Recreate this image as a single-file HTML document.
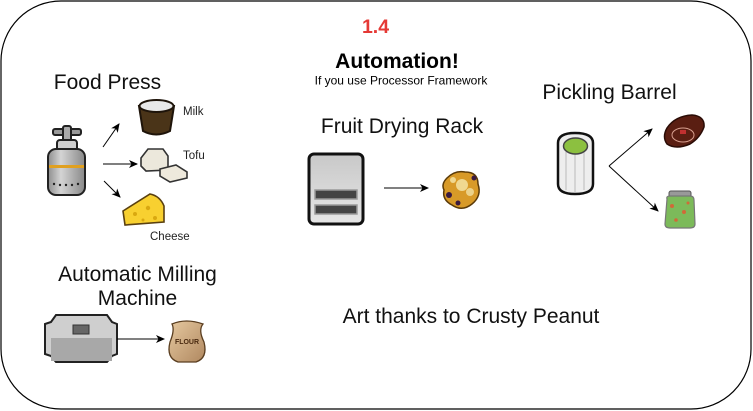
<!DOCTYPE html>
<html>
<head>
<meta charset="utf-8">
<style>
html,body{margin:0;padding:0;background:#fff;}
svg{display:block;}
text{font-family:"Liberation Sans",Arial,sans-serif;}
</style>
</head>
<body>
<svg width="753" height="411" viewBox="0 0 753 411" xmlns="http://www.w3.org/2000/svg">
<defs>
  <marker id="ah" markerWidth="10" markerHeight="10" refX="8" refY="4" orient="auto" markerUnits="userSpaceOnUse">
    <path d="M0,0 L9,4 L0,8 L2.5,4 Z" fill="#000"/>
  </marker>
  <linearGradient id="cyl" x1="0" x2="1" y1="0" y2="0">
    <stop offset="0" stop-color="#8e8e8e"/>
    <stop offset="0.35" stop-color="#d4d4d4"/>
    <stop offset="1" stop-color="#888"/>
  </linearGradient>
  <linearGradient id="rack" x1="0" x2="0" y1="0" y2="1">
    <stop offset="0" stop-color="#c8c8c8"/>
    <stop offset="1" stop-color="#e6e6e6"/>
  </linearGradient>
  <linearGradient id="sack" x1="0" x2="1" y1="0" y2="1">
    <stop offset="0" stop-color="#e6c9a0"/>
    <stop offset="1" stop-color="#b08860"/>
  </linearGradient>
</defs>

<!-- outer rounded border -->
<rect x="1" y="1" width="750" height="408" rx="60" ry="60" fill="#fff" stroke="#000" stroke-width="1.2"/>

<!-- titles -->
<text x="375.5" y="33" font-size="19.5" font-weight="bold" fill="#e53935" text-anchor="middle">1.4</text>
<text x="397" y="68" font-size="21" font-weight="bold" fill="#000" text-anchor="middle">Automation!</text>
<text x="401" y="84.5" font-size="12" fill="#000" text-anchor="middle">If you use Processor Framework</text>

<!-- Food Press -->
<text x="107.5" y="89" font-size="21" fill="#111" text-anchor="middle">Food Press</text>
<text x="183" y="115" font-size="11.5" fill="#222">Milk</text>
<text x="183" y="159" font-size="11.5" fill="#222">Tofu</text>
<text x="150" y="240" font-size="11.5" fill="#222">Cheese</text>

<!-- food press icon -->
<g stroke="#222" stroke-width="2">
  <rect x="53" y="129" width="28" height="6" rx="2" fill="#9a9a9a"/>
  <rect x="63" y="126" width="8" height="16" rx="2" fill="#aaa"/>
  <rect x="57" y="140" width="20" height="14" rx="3" fill="#cfcfcf"/>
  <rect x="48" y="149" width="37" height="46" rx="8" fill="url(#cyl)"/>
</g>
<rect x="49" y="165" width="35" height="3" fill="#e0a020"/>
<g fill="#222">
  <circle cx="54" cy="184" r="1.2"/><circle cx="60" cy="185" r="1.2"/><circle cx="66" cy="185" r="1.2"/>
  <circle cx="72" cy="185" r="1.2"/><circle cx="78" cy="184" r="1.2"/>
</g>

<!-- arrows food press -->
<line x1="103" y1="147" x2="119" y2="124" stroke="#000" stroke-width="1" marker-end="url(#ah)"/>
<line x1="103" y1="164" x2="137" y2="164" stroke="#333" stroke-width="1.3" marker-end="url(#ah)"/>
<line x1="104" y1="181" x2="120" y2="197" stroke="#000" stroke-width="1" marker-end="url(#ah)"/>

<!-- milk -->
<path d="M139,106 L143,131 Q156,138 170,131 L174,106 Z" fill="#4a3418" stroke="#1e140a" stroke-width="2"/>
<ellipse cx="156.5" cy="106" rx="17" ry="6" fill="#e8e8e8" stroke="#1e140a" stroke-width="2"/>

<!-- tofu -->
<path d="M141,158 L148,149 L163,149 L168,156 L168,170 L146,171 L141,166 Z" fill="#ece8dc" stroke="#333" stroke-width="1.6"/>
<path d="M160,169 L176,165 L187,172 L187,178 L170,182 L160,176 Z" fill="#eee9dc" stroke="#333" stroke-width="1.6"/>

<!-- cheese -->
<path d="M123,211 L150,194 Q160,196 164,206 L164,222 L125,225 Z" fill="#f8d030" stroke="#5a4010" stroke-width="1.6"/>
<g fill="#d9a810"><circle cx="135" cy="214" r="2"/><circle cx="148" cy="208" r="2.2"/><circle cx="155" cy="218" r="2"/><circle cx="143" cy="220" r="1.5"/></g>

<!-- Fruit Drying Rack -->
<text x="402" y="133" font-size="21" fill="#111" text-anchor="middle">Fruit Drying Rack</text>
<rect x="309" y="154" width="54" height="70" rx="5" fill="url(#rack)" stroke="#111" stroke-width="3"/>
<rect x="315" y="190" width="42" height="9" fill="#444" stroke="#999" stroke-width="1.5"/>
<rect x="315" y="205" width="42" height="9" fill="#444" stroke="#999" stroke-width="1.5"/>
<line x1="384" y1="188" x2="428" y2="188" stroke="#000" stroke-width="1" marker-end="url(#ah)"/>
<!-- dried fruit -->
<path d="M447,178 Q455,170 465,172 Q478,172 478,184 Q482,196 472,204 Q462,212 452,205 Q442,200 444,190 Q441,184 447,178 Z" fill="#d89a28" stroke="#5a3a08" stroke-width="1.5"/>
<g>
  <circle cx="462" cy="185" r="6" fill="#f0d890"/>
  <circle cx="470" cy="192" r="4" fill="#ecd28a"/>
  <circle cx="449" cy="195" r="3" fill="#3a1a40"/>
  <circle cx="474" cy="178" r="2.5" fill="#3a1a40"/>
  <circle cx="458" cy="203" r="2.5" fill="#3a1a40"/>
  <circle cx="453" cy="180" r="3" fill="#f0d890"/>
</g>

<!-- Pickling Barrel -->
<text x="609.5" y="99" font-size="21" fill="#111" text-anchor="middle">Pickling Barrel</text>
<path d="M558,143 Q558,133 575,133 Q593,133 593,143 L593,184 Q593,194 575,194 Q558,194 558,184 Z" fill="#eeeeee" stroke="#111" stroke-width="2.5"/>
<g stroke="#bbb" stroke-width="1"><line x1="566" y1="152" x2="566" y2="190"/><line x1="575" y1="153" x2="575" y2="192"/><line x1="584" y1="152" x2="584" y2="190"/></g>
<ellipse cx="575.5" cy="146" rx="12" ry="8" fill="#8cc040" stroke="#444" stroke-width="1.5"/>
<line x1="609" y1="166" x2="652" y2="129" stroke="#000" stroke-width="1" marker-end="url(#ah)"/>
<line x1="609" y1="166" x2="658" y2="211" stroke="#000" stroke-width="1" marker-end="url(#ah)"/>
<!-- meat -->
<path d="M667,128 Q675,116 692,115 Q705,116 704,127 Q700,138 690,144 Q676,150 667,144 Q662,137 667,128 Z" fill="#5a1e12" stroke="#2a0c06" stroke-width="1.5"/>
<ellipse cx="683" cy="135" rx="11" ry="7" fill="none" stroke="#d8a090" stroke-width="1"/>
<rect x="680" y="130" width="6" height="4" fill="#c03030"/>
<!-- jar -->
<rect x="669" y="191" width="22" height="6" rx="2" fill="#999" stroke="#555" stroke-width="1"/>
<path d="M667,199 Q666,196 670,196 L690,196 Q694,196 694,200 L695,224 Q695,228 690,228 L670,228 Q665,228 665,224 Z" fill="#7cba5a" stroke="#777" stroke-width="1.2"/>
<g fill="#d06a38"><circle cx="672" cy="206" r="2"/><circle cx="684" cy="212" r="2"/><circle cx="676" cy="220" r="1.8"/><circle cx="688" cy="203" r="1.5"/></g>

<!-- Automatic Milling Machine -->
<text x="137.5" y="281" font-size="21" fill="#111" text-anchor="middle">Automatic Milling</text>
<text x="137.5" y="305" font-size="21" fill="#111" text-anchor="middle">Machine</text>
<path d="M56,315 L107,315 L112,322 L117,324 L117,354 L112,356 L107,362 L56,362 L51,356 L45,354 L45,324 L51,322 Z" fill="#cfcfcf" stroke="#222" stroke-width="2"/>
<rect x="51" y="338" width="61" height="23" fill="#a8a8a8"/>
<rect x="73" y="325" width="16" height="9" fill="#666" stroke="#333" stroke-width="1"/>
<line x1="117" y1="339" x2="164" y2="339" stroke="#000" stroke-width="1" marker-end="url(#ah)"/>
<!-- flour sack -->
<path d="M172,324 Q186,318 203,324 Q198,330 204,342 Q208,358 196,362 L178,362 Q166,358 170,342 Q175,330 172,324 Z" fill="url(#sack)" stroke="#5a3e20" stroke-width="1.3"/>
<text x="187" y="344" font-size="7" font-weight="bold" fill="#4a2a10" text-anchor="middle" font-family="Liberation Serif,serif">FLOUR</text>

<!-- Credits -->
<text x="471" y="323" font-size="21" fill="#111" text-anchor="middle">Art thanks to Crusty Peanut</text>
</svg>
</body>
</html>
